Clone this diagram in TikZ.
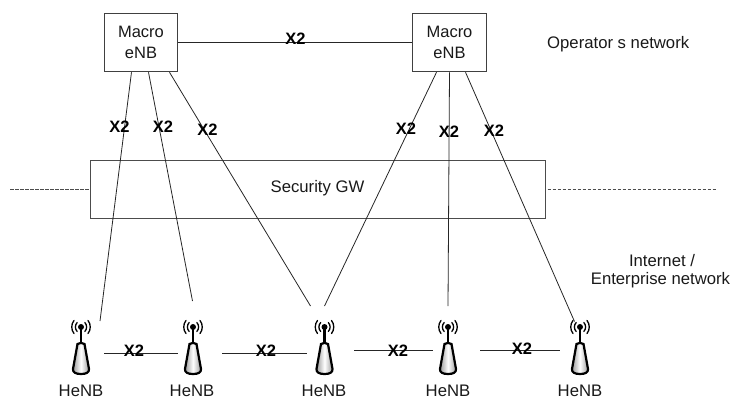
\documentclass[tikz,border=0pt]{standalone}
\usepackage{fontspec}
\setmainfont{Liberation Sans}
\tikzset{
  lbl/.style={font=\fontsize{16.7}{19}\selectfont,inner sep=0pt,text=black!90},
  xtwo/.style={font=\fontsize{16.5}{19}\bfseries\selectfont,inner sep=0pt,text=black},
  macrobox/.style={draw=black!75,line width=1pt,minimum width=73.5pt,minimum height=58.5pt,inner sep=0pt,align=center,lbl,font=\fontsize{16.5}{20.5}\selectfont,fill=white},
  gwbox/.style={draw=black!70,line width=1pt,minimum width=455pt,minimum height=58pt,inner sep=0pt,lbl},
  link/.style={draw=black!85,line width=0.8pt},
  netline/.style={draw=black!70,line width=0.8pt,dash pattern=on 3.5pt off 1.5pt},
  antenna/.style={minimum width=20pt,minimum height=50pt,inner sep=0pt},
  ring/.style={draw=black,line width=1.3pt,line cap=round}
}
\newcommand{\antennaat}[1]{%
  \begin{scope}[shift={(#1)}]
    \fill[black] (0,-23) circle (3);
    \draw[black,line width=2.8pt] (0,-23) -- (0,-7);
    \draw[ring] (-7,-29.5) .. controls (-10,-26) and (-10,-20) .. (-7,-16.5);
    \draw[ring] (7,-29.5) .. controls (10,-26) and (10,-20) .. (7,-16.5);
    \draw[ring] (-3.8,-27.5) .. controls (-6.2,-25) and (-6.2,-21) .. (-3.8,-18.5);
    \draw[ring] (3.8,-27.5) .. controls (6.2,-25) and (6.2,-21) .. (3.8,-18.5);
    \draw[black,line width=2.2pt,left color=black!40,right color=black!40,middle color=white]
      (-3.5,-6) .. controls (-1,-7.5) and (1,-7.5) .. (3.5,-6)
      -- (8,19) .. controls (8.4,22.5) and (5,24) .. (0,24)
      .. controls (-5,24) and (-8.4,22.5) .. (-8,19) -- cycle;
  \end{scope}}
\begin{document}
\begin{tikzpicture}[x=1pt,y=-1pt]
\useasboundingbox (0,0) rectangle (730,399);
\coordinate (dl) at (10,189);
\coordinate (dr) at (716,189);
\node[gwbox] (gw) at (317.5,189) {};
\draw[netline] (dl) -- (gw.west);
\draw[netline] ([xshift=2pt]gw.east) -- (dr);
\node[macrobox] (m1) at (141,42.5) {Macro\\eNB};
\node[macrobox] (m2) at (449.5,42.5) {Macro\\eNB};
\node[antenna] (a1) at (81,350) {};
\node[antenna] (a2) at (193,350) {};
\node[antenna] (a3) at (324.5,350) {};
\node[antenna] (a4) at (448,350) {};
\node[antenna] (a5) at (580,350) {};
\antennaat{a1}\antennaat{a2}\antennaat{a3}\antennaat{a4}\antennaat{a5}
\draw[link] (m1.east) -- (m2.west);
\draw[link] ([xshift=-9.5pt]m1.south) -- ([shift={(19,-29)}]a1.center);
\draw[link] ([xshift=7.5pt]m1.south) -- ([shift={(-0.5,-49)}]a2.center);
\draw[link] ([xshift=28.5pt]m1.south) -- ([shift={(-14,-44)}]a3.center);
\draw[link] ([xshift=-13pt]m2.south) -- ([shift={(0,-44)}]a3.center);
\draw[link] ([xshift=0pt]m2.south) -- ([shift={(0,-44)}]a4.center);
\draw[link] ([xshift=16pt]m2.south) -- ([shift={(-5.5,-28.5)}]a5.center);
\draw[link] ([shift={(23,3)}]a1.center) -- ([shift={(-15,3)}]a2.center);
\draw[link] ([shift={(29,3)}]a2.center) -- ([shift={(-17.5,3)}]a3.center);
\draw[link] ([shift={(29.5,0)}]a3.center) -- ([shift={(-15,0)}]a4.center);
\draw[link] ([shift={(32,0)}]a4.center) -- ([shift={(-20,0)}]a5.center);
\node[xtwo] (x0) at (295.5,39) {X2};
\node[xtwo] (x1) at (119.5,127) {X2};
\node[xtwo] (x2) at (163,127) {X2};
\node[xtwo] (x3) at (207.5,130) {X2};
\node[xtwo] (x4) at (406,129) {X2};
\node[xtwo] (x5) at (449,132) {X2};
\node[xtwo] (x6) at (494,131) {X2};
\node[xtwo] (x7) at (134,351) {X2};
\node[xtwo] (x8) at (266,351) {X2};
\node[xtwo] (x9) at (398,351) {X2};
\node[xtwo] (x10) at (522,349) {X2};
\node[lbl] (sg) at (317.5,188) {Security GW};
\node[lbl,anchor=west] (op) at (547,44) {Operator s network};
\node[lbl] (in) at (662,261) {Internet /};
\node[lbl] (en) at (660.5,280) {Enterprise network};
\node[lbl] (h1) at (81,391) {HeNB};
\node[lbl] (h2) at (192,391) {HeNB};
\node[lbl] (h3) at (324,391) {HeNB};
\node[lbl] (h4) at (448,391) {HeNB};
\node[lbl] (h5) at (580,391) {HeNB};
\end{tikzpicture}
\end{document}
